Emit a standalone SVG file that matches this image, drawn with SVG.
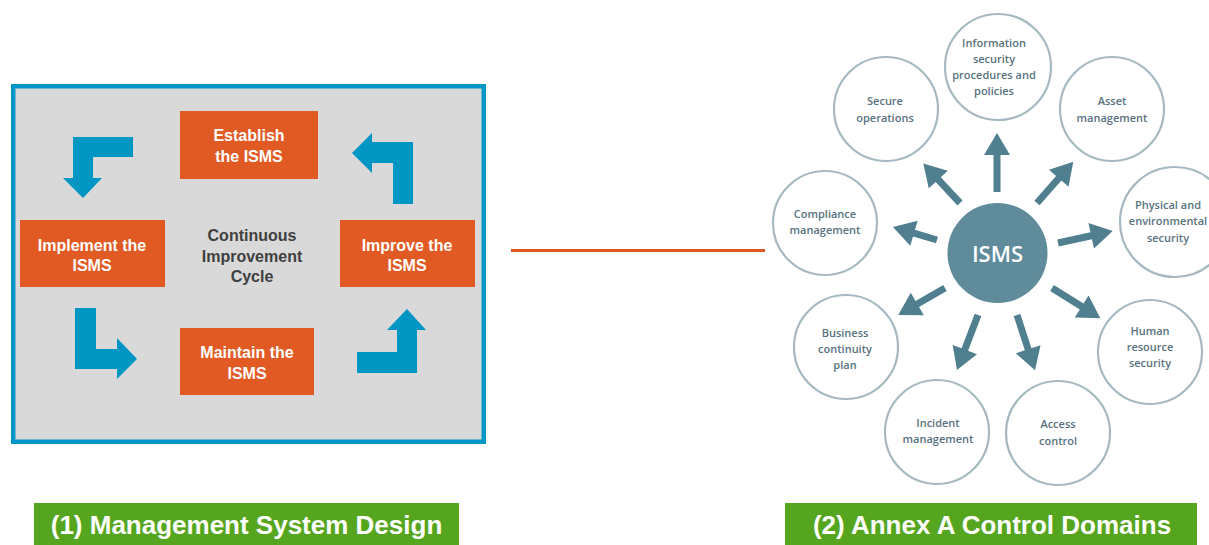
<svg xmlns="http://www.w3.org/2000/svg" width="1209" height="545" viewBox="0 0 1209 545">
<style>
.box{fill:#E15A24}
.bt{fill:#fff;font-family:"Liberation Sans",Arial,sans-serif;font-weight:bold;font-size:16px;text-anchor:middle}
.ct{fill:#3F3F3F;font-family:"Liberation Sans",Arial,sans-serif;font-weight:bold;font-size:16px;text-anchor:middle}
.barr{fill:#0096C4}
.dom{fill:#fff;stroke:#A6B9C1;stroke-width:2.2}
.dt{fill:#587280;font-family:"Open Sans","Noto Sans",sans-serif;font-weight:600;font-size:11px;text-anchor:middle}
.rarr{fill:#507F90}
.lab{fill:#56A51E}
.lt{fill:#fff;font-family:"Liberation Sans",Arial,sans-serif;font-weight:bold;font-size:26px;text-anchor:middle}
</style>
<rect width="1209" height="545" fill="#fff"/>

<g id="panel-left">
<rect x="13.25" y="86.25" width="470.5" height="355.5" fill="#D9D9D9" stroke="#0096C8" stroke-width="4.5"/>
<text class="ct" x="252" y="241">Continuous</text>
<text class="ct" x="252" y="262">Improvement</text>
<text class="ct" x="252" y="282">Cycle</text>
</g>

<g id="establish">
<rect class="box" x="180" y="111" width="138" height="68"/>
<text class="bt" x="249" y="141">Establish</text>
<text class="bt" x="249" y="162">the ISMS</text>
</g>
<g id="implement">
<rect class="box" x="20" y="220" width="145" height="67"/>
<text class="bt" x="92" y="251">Implement the</text>
<text class="bt" x="92" y="271">ISMS</text>
</g>
<g id="improve">
<rect class="box" x="340" y="220" width="135" height="67"/>
<text class="bt" x="407" y="251">Improve the</text>
<text class="bt" x="407" y="271">ISMS</text>
</g>
<g id="maintain">
<rect class="box" x="180" y="328" width="134" height="67"/>
<text class="bt" x="247" y="358">Maintain the</text>
<text class="bt" x="247" y="379">ISMS</text>
</g>

<g id="connectors">
<path class="barr" d="M133,137 L73,137 L73,178 L63,178 L83,198 L102,178 L93,178 L93,157 L133,157 Z"/>
<path class="barr" d="M413,204 L393,204 L393,163 L372,163 L372,173 L352,153 L372,133 L372,142 L413,142 Z"/>
<path class="barr" d="M75,308 L96,308 L96,349 L117,349 L117,338 L137,359 L117,379 L117,369 L75,369 Z"/>
<path class="barr" d="M357,373 L417,373 L417,330 L426,330 L407,309 L387,330 L397,330 L397,352 L357,352 Z"/>
<line x1="511" y1="250.5" x2="765" y2="250.5" stroke="#E0582A" stroke-width="3"/>
<path class="rarr" transform="translate(997,192) rotate(-90)" d="M0,-3.5 H37 V-13 L59,0 L37,13 V3.5 H0 Z"/>
<path class="rarr" transform="translate(960,203) rotate(-132.8)" d="M0,-3.5 H32 V-13 L54,0 L32,13 V3.5 H0 Z"/>
<path class="rarr" transform="translate(1037,203) rotate(-48.7)" d="M0,-3.5 H33 V-13 L55,0 L33,13 V3.5 H0 Z"/>
<path class="rarr" transform="translate(937,240) rotate(-163.5)" d="M0,-3.5 H24 V-13 L46,0 L24,13 V3.5 H0 Z"/>
<path class="rarr" transform="translate(1058,243) rotate(-12.3)" d="M0,-3.5 H34 V-13 L56,0 L34,13 V3.5 H0 Z"/>
<path class="rarr" transform="translate(945,288) rotate(150)" d="M0,-3.5 H32 V-13 L54,0 L32,13 V3.5 H0 Z"/>
<path class="rarr" transform="translate(978,315) rotate(110.9)" d="M0,-3.5 H37 V-13 L59,0 L37,13 V3.5 H0 Z"/>
<path class="rarr" transform="translate(1017,315) rotate(71.9)" d="M0,-3.5 H36 V-13 L58,0 L36,13 V3.5 H0 Z"/>
<path class="rarr" transform="translate(1052,288) rotate(32)" d="M0,-3.5 H35 V-13 L57,0 L35,13 V3.5 H0 Z"/>
</g>

<g id="isms">
<circle cx="997.5" cy="253" r="50" fill="#5F8B9B"/>
<text x="997.5" y="262" fill="#fff" font-family="'Open Sans','Noto Sans',sans-serif" font-weight="600" font-size="22" text-anchor="middle">ISMS</text>
</g>
<g id="d-info">
<circle class="dom" cx="998" cy="67" r="53"/>
<text class="dt" x="994" y="47">Information</text>
<text class="dt" x="994" y="63">security</text>
<text class="dt" x="994" y="79">procedures and</text>
<text class="dt" x="994" y="95">policies</text>
</g>
<g id="d-secure">
<circle class="dom" cx="886" cy="109" r="52"/>
<text class="dt" x="885" y="105">Secure</text>
<text class="dt" x="885" y="122">operations</text>
</g>
<g id="d-asset">
<circle class="dom" cx="1112" cy="109" r="52"/>
<text class="dt" x="1112" y="105">Asset</text>
<text class="dt" x="1112" y="122">management</text>
</g>
<g id="d-physical">
<circle class="dom" cx="1175" cy="222" r="55"/>
<text class="dt" x="1168" y="209">Physical and</text>
<text class="dt" x="1168" y="225">environmental</text>
<text class="dt" x="1168" y="242">security</text>
</g>
<g id="d-compliance">
<circle class="dom" cx="825" cy="223" r="52"/>
<text class="dt" x="825" y="218">Compliance</text>
<text class="dt" x="825" y="234">management</text>
</g>
<g id="d-business">
<circle class="dom" cx="846" cy="347" r="52"/>
<text class="dt" x="845" y="337">Business</text>
<text class="dt" x="845" y="353">continuity</text>
<text class="dt" x="845" y="369">plan</text>
</g>
<g id="d-human">
<circle class="dom" cx="1150" cy="352" r="52"/>
<text class="dt" x="1150" y="335">Human</text>
<text class="dt" x="1150" y="351">resource</text>
<text class="dt" x="1150" y="367">security</text>
</g>
<g id="d-incident">
<circle class="dom" cx="937" cy="432" r="52"/>
<text class="dt" x="938" y="427">Incident</text>
<text class="dt" x="938" y="443">management</text>
</g>
<g id="d-access">
<circle class="dom" cx="1058" cy="433" r="52"/>
<text class="dt" x="1058" y="428">Access</text>
<text class="dt" x="1058" y="445">control</text>
</g>

<g id="label-1">
<rect class="lab" x="34" y="503" width="425" height="42"/>
<text class="lt" x="246.5" y="534">(1) Management System Design</text>
</g>
<g id="label-2">
<rect class="lab" x="785" y="503" width="412" height="42"/>
<text class="lt" x="992" y="534">(2) Annex A Control Domains</text>
</g>
</svg>
